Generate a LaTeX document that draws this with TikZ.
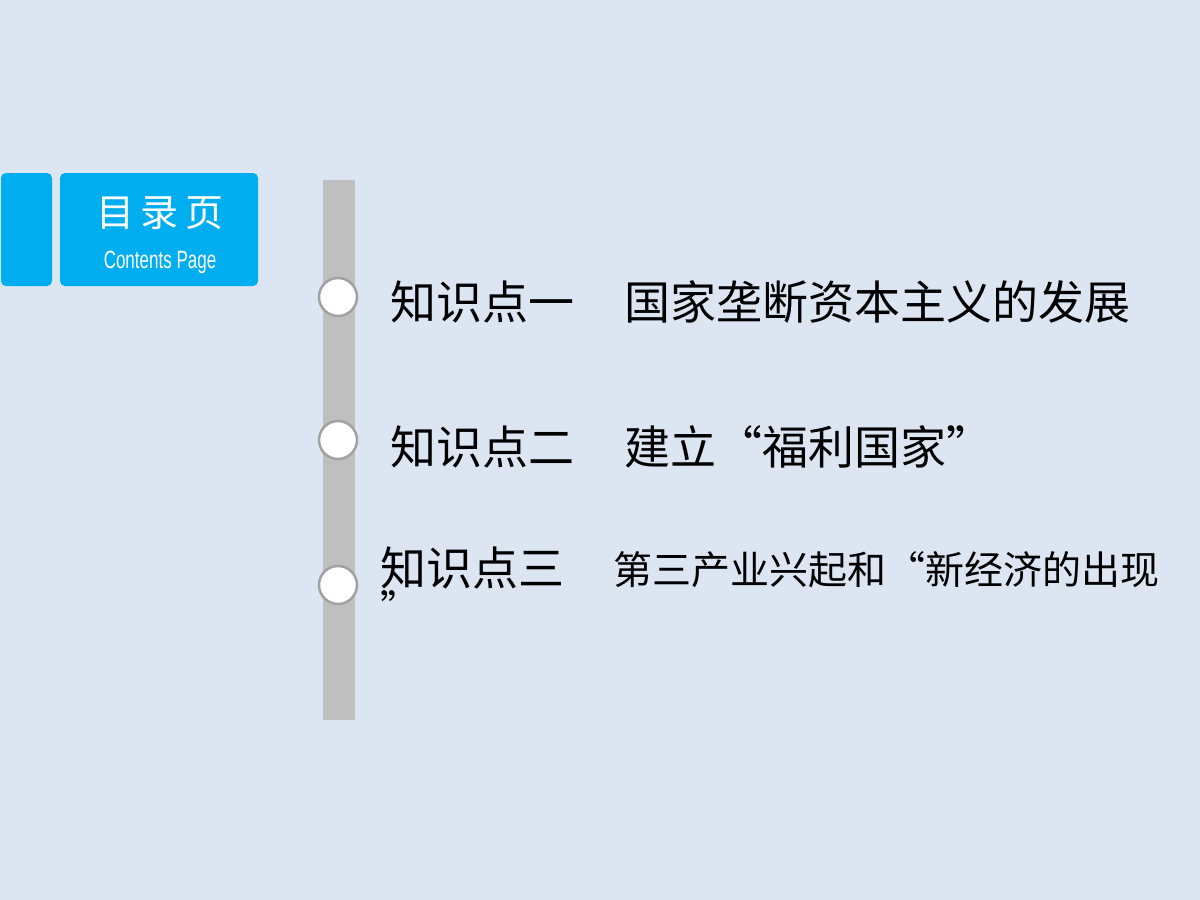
\documentclass[tikz,border=0pt]{standalone}
\usepackage{fontspec}
\setmainfont{Noto Sans CJK SC}
\newfontfamily\cjk{Noto Sans CJK SC}
\newfontfamily\cond[FakeStretch=0.68]{Liberation Sans}
\definecolor{bg}{HTML}{DCE6F2}
\definecolor{blu}{HTML}{00AEEF}
\definecolor{bar}{HTML}{BFBFBF}
\begin{document}
\begin{tikzpicture}[x=1pt,y=-1pt,
  dot/.style={circle,draw=bar!85!black,line width=2.5pt,fill=white,minimum size=38pt,inner sep=0pt},
  item/.style={anchor=west,font=\cjk\fontsize{46}{50}\selectfont,inner sep=0pt}]
\fill[bg] (0,0) rectangle (1200,900);
\useasboundingbox (0,0) rectangle (1200,900);
\fill[blu,rounded corners=5pt] (1,173) rectangle (52,286);
\fill[blu,rounded corners=5pt] (60,173) rectangle (258,286);
\node[text=white,font=\cjk\fontsize{38}{42}\selectfont] (t1) at (160,213) {目\,录\,页};
\node[text=white,font=\cond\fontsize{25}{27}\selectfont] (t2) at (160,262) {Contents Page};
\fill[bar] (323,180) rectangle (355,720);
\node[dot] (c1) at (338,297) {};
\node[dot] (c2) at (338,440) {};
\node[dot] (c3) at (338,585) {};
\node[item] (k1) at (390,302) {知识点一\hspace{1.1em}国家垄断资本主义的发展};
\node[item] (k2) at (390,447) {知识点二\hspace{1.1em}建立“福利国家”};
\node[item] (k3) at (380,568) {知识点三};
\node[anchor=west,inner sep=0pt,font=\cjk\fontsize{39}{42}\selectfont] (k3b) at (613,570) {第三产业兴起和“新经济的出现};
\node[anchor=west,inner sep=0pt,font=\cjk\fontsize{39}{42}\selectfont] (k3c) at (380,607) {”};
\end{tikzpicture}
\end{document}
